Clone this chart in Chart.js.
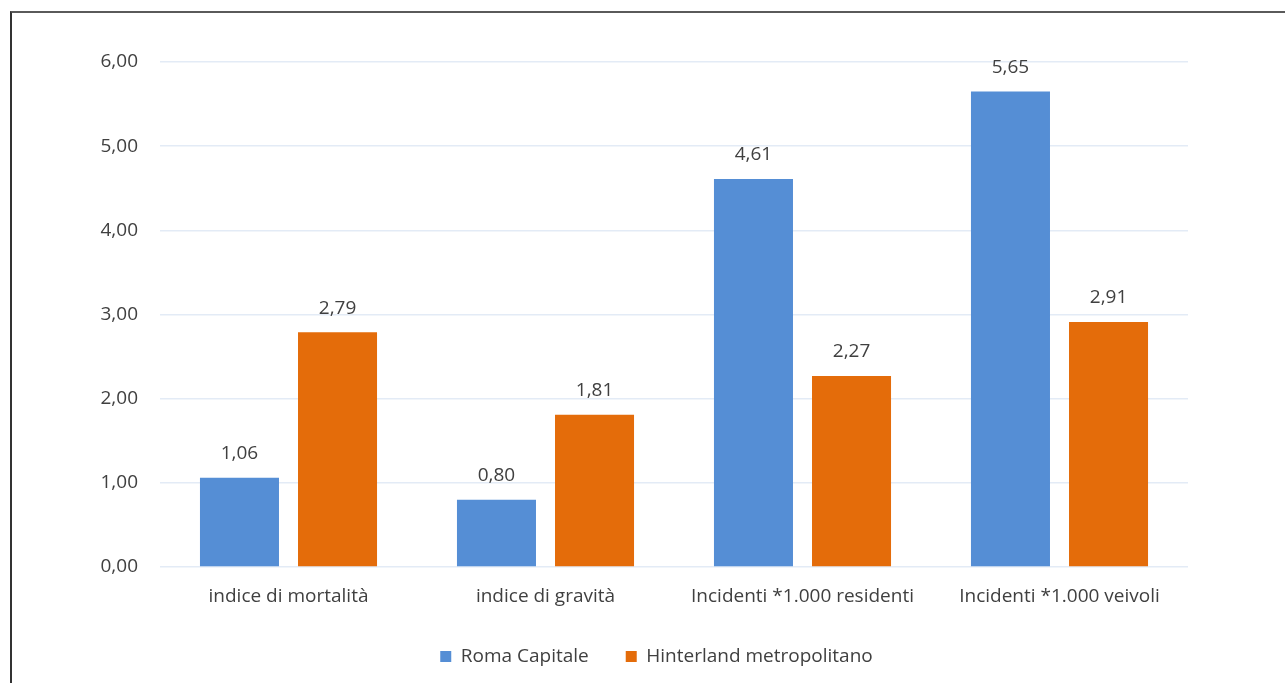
<!DOCTYPE html>
<html>
<head>
<meta charset="utf-8">
<script src="https://cdn.jsdelivr.net/npm/chart.js@4"></script>
<style>
  html, body { margin: 0; padding: 0; background: #fff; }
  #wrap { position: relative; width: 1285px; height: 683px; }
  #frame { position: absolute; left: 10px; top: 11px; right: 0; bottom: 0;
           border-top: 2px solid #5a5a5a; border-left: 2px solid #333; }
  canvas { position: absolute; left: 0; top: 0; }
</style>
</head>
<body>
<div id="wrap">
  <div id="frame"></div>
  <canvas id="myChart" width="1285" height="683"></canvas>
</div>
<script>
var categories = ['indice di mortalità', 'indice di gravità', 'Incidenti *1.000 residenti', 'Incidenti *1.000 veivoli'];
var romaCapitale = [1.06, 0.80, 4.61, 5.65];
var hinterland = [2.79, 1.81, 2.27, 2.91];
var yTicks = [0, 1, 2, 3, 4, 5, 6];

function fmt(v) {
  return v.toFixed(2).replace('.', ',');
}

// value labels above bars
var valueLabels = {
  id: 'valueLabels',
  afterDatasetsDraw: function(chart) {
    var ctx = chart.ctx;
    ctx.save();
    ctx.font = '19px "Open Sans", sans-serif';
    ctx.fillStyle = '#404040';
    ctx.textAlign = 'center';
    ctx.textBaseline = 'middle';
    chart.data.datasets.forEach(function(ds, i) {
      chart.getDatasetMeta(i).data.forEach(function(bar, j) {
        ctx.fillText(fmt(ds.data[j]), bar.x, bar.y - 24);
      });
    });
    ctx.restore();
  }
};

Chart.defaults.font.family = '"Open Sans", sans-serif';
Chart.defaults.color = '#404040';

var ctx = document.getElementById('myChart').getContext('2d');
var chart = new Chart(ctx, {
  type: 'bar',
  data: {
    labels: categories,
    datasets: [
      {
        label: 'Roma Capitale',
        backgroundColor: '#558ed5',
        data: romaCapitale
      },
      {
        label: 'Hinterland metropolitano',
        backgroundColor: '#e46c0a',
        data: hinterland
      }
    ]
  },
  options: {
    responsive: false,
    animation: false,
    categoryPercentage: 0.763,
    barPercentage: 0.806,
    layout: {
      padding: { left: 28, right: 0, top: 62, bottom: 7 }
    },
    scales: {
      x: {
        grid: { display: false, drawTicks: false },
        border: { display: false },
        ticks: { font: { size: 19 }, padding: 18, color: '#404040' },
        afterFit: function(scale) { scale.height = 43; }
      },
      y: {
        min: 0,
        max: 6,
        afterBuildTicks: function(scale) {
          scale.ticks = yTicks.map(function(v) { return { value: v }; });
        },
        grid: { color: '#e3ebf6', lineWidth: 1.5, drawTicks: false },
        border: { display: false },
        ticks: {
          font: { size: 19 },
          padding: 22,
          color: '#404040',
          callback: function(v) { return fmt(v); }
        },
        afterFit: function(scale) { scale.width = 132; }
      },
      // empty right-hand axis, only reserves the white margin
      y2: {
        position: 'right',
        grid: { display: false },
        border: { display: false },
        ticks: { display: false },
        afterFit: function(scale) { scale.width = 97; }
      }
    },
    plugins: {
      legend: {
        position: 'bottom',
        labels: {
          boxWidth: 11,
          boxHeight: 11,
          padding: 37,
          font: { size: 19 },
          color: '#404040'
        }
      },
      tooltip: { enabled: false }
    }
  },
  plugins: [valueLabels]
});
</script>
</body>
</html>
